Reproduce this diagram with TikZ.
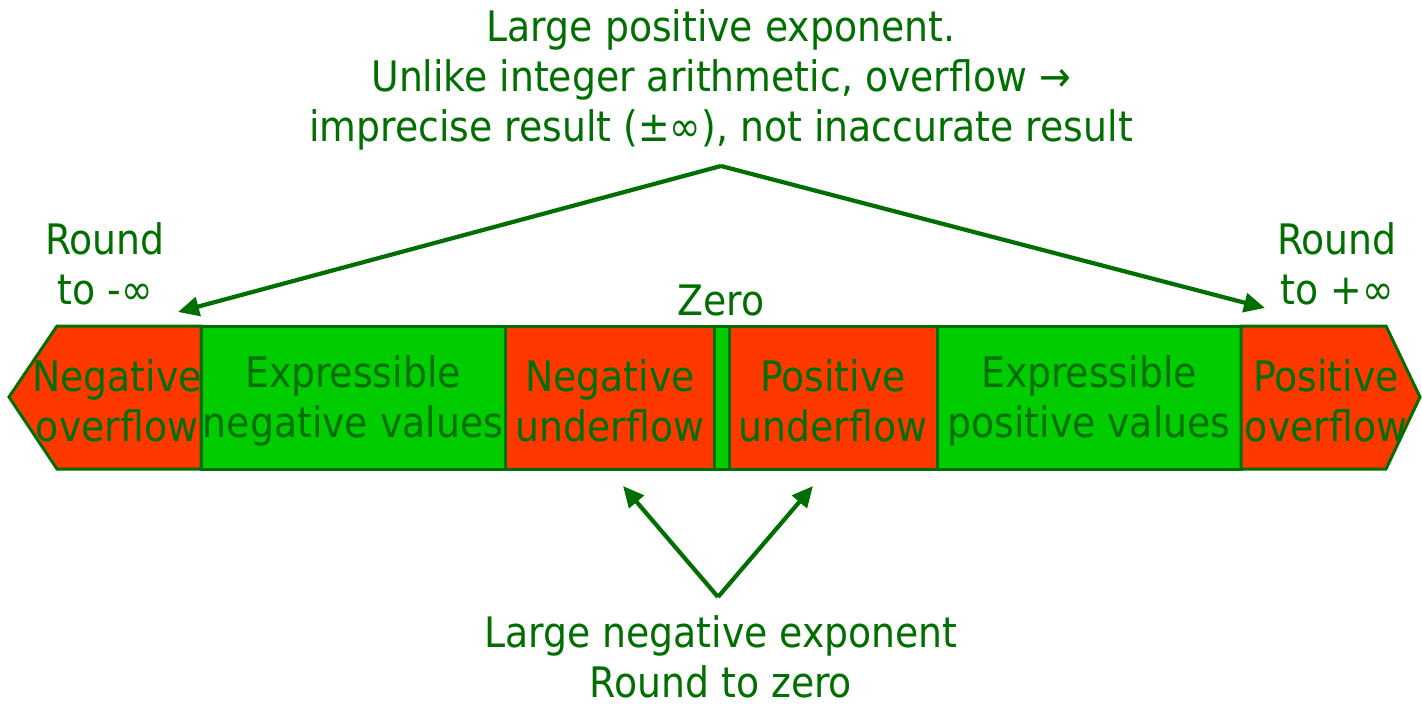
\documentclass[tikz,border=0pt]{standalone}
\usepackage{fontspec}
\setmainfont{DejaVu Sans Condensed}
\usetikzlibrary{arrows.meta}
\definecolor{dg}{RGB}{0,110,0}
\definecolor{rd}{RGB}{255,56,0}
\definecolor{gr}{RGB}{0,204,0}
\begin{document}
\begin{tikzpicture}[x=1pt,y=-1pt,
  txt/.style={text=dg,font=\fontsize{42}{50}\selectfont,align=center,inner sep=0pt},
  cell/.style={draw=dg,line width=3pt,line join=miter},
  arr/.style={draw=dg,line width=4.2pt,-{Triangle[length=21pt,width=19pt]}}]
\useasboundingbox (0,0) rectangle (1422,704);
% bar cells
\path[cell,fill=rd] (9,397) -- (57,326) -- (201,326) -- (201,469) -- (57,469) -- cycle;
\path[cell,fill=gr] (201,326) rectangle (505,469);
\path[cell,fill=rd] (505,326) rectangle (714,469);
\path[cell,fill=gr] (714,326) rectangle (729,469);
\path[cell,fill=rd] (729,326) rectangle (937,469);
\path[cell,fill=gr] (937,326) rectangle (1241,469);
\path[cell,fill=rd] (1241,326) -- (1386,326) -- (1420,397) -- (1386,469) -- (1241,469) -- cycle;
% cell labels
\node[txt] (negov) at (117,401) {Negative\\overflow};
\node[txt] (expneg) at (353,401) {Expressible\\negative values};
\node[txt] (negun) at (610,401) {Negative\\underflow};
\node[txt] (posun) at (833,401) {Positive\\underflow};
\node[txt] (exppos) at (1089,401) {Expressible\\positive values};
\node[txt] (posov) at (1326,401) {Positive\\overflow};
% annotations
\node[txt] (top) at (721,80) {Large positive exponent.\\Unlike integer arithmetic, overflow →\\imprecise result (±∞), not inaccurate result};
\node[txt] (rl) at (105,264) {Round\\to -∞};
\node[txt] (rr) at (1337,264) {Round\\to +∞};
\node[txt] (zero) at (721,300) {Zero};
\node[txt] (bot) at (721,657) {Large negative exponent\\Round to zero};
% arrows
\coordinate (tapex) at (721,166);
\coordinate (tl) at (178,312);
\coordinate (tr) at (1265,308);
\coordinate (bapex) at (718,597);
\coordinate (bl) at (623,486);
\coordinate (br) at (813,486);
\draw[arr] (tapex) -- (tl);
\draw[arr] (tapex) -- (tr);
\draw[arr] (bapex) -- (bl);
\draw[arr] (bapex) -- (br);
\end{tikzpicture}
\end{document}
